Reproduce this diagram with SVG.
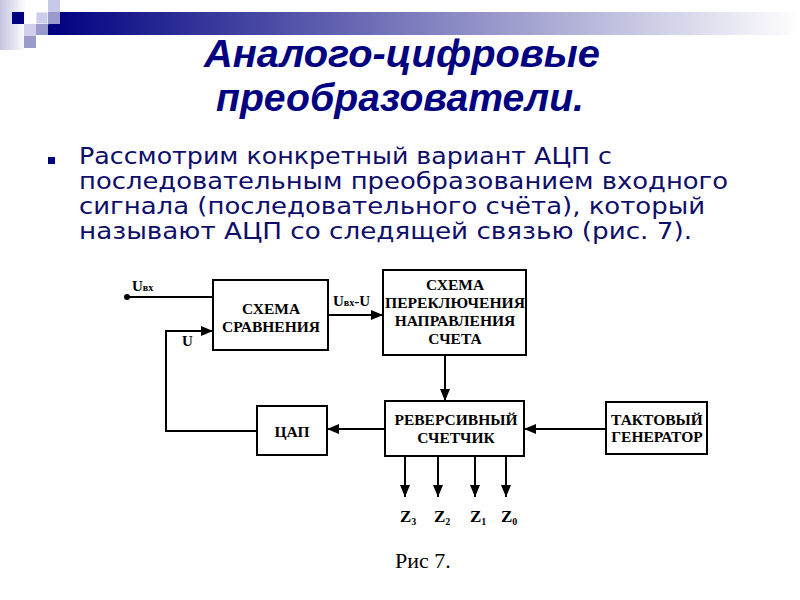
<svg xmlns="http://www.w3.org/2000/svg" width="800" height="600" viewBox="0 0 800 600">
<defs>
<linearGradient id="bar" x1="0" y1="0" x2="1" y2="0">
<stop offset="0" stop-color="#000080"/>
<stop offset="1" stop-color="#ffffff"/>
</linearGradient>
<linearGradient id="strip" x1="0" y1="0" x2="1" y2="0">
<stop offset="0" stop-color="#c4c4e2"/>
<stop offset="1" stop-color="#ffffff"/>
</linearGradient>
<marker id="ah" viewBox="0 0 12 10" refX="12" refY="5" markerWidth="12" markerHeight="10" markerUnits="userSpaceOnUse" orient="auto">
<path d="M0,0 L12,5 L0,10 z" fill="#000"/>
</marker>
<style>
.box{fill:#fff;stroke:#000;stroke-width:2}
.ln{fill:none;stroke:#000;stroke-width:2}
.arr{fill:none;stroke:#000;stroke-width:2;marker-end:url(#ah)}
.bt{font-family:"Liberation Serif","Times New Roman",serif;font-weight:bold;font-size:15.5px;fill:#000;text-anchor:middle}
.lb{font-family:"Liberation Serif","Times New Roman",serif;font-weight:bold;font-size:15px;fill:#000}
.z{font-family:"Liberation Serif","Times New Roman",serif;font-weight:bold;font-size:17px;fill:#000}
.title{font-family:"Liberation Sans",Arial,sans-serif;font-weight:bold;font-style:italic;font-size:38px;fill:#000080;text-anchor:middle}
.body{font-family:"DejaVu Sans",Verdana,sans-serif;font-size:23px;fill:#0e0e6a}
</style>
</defs>
<g id="header">
<rect x="0" y="0" width="26" height="50" fill="url(#strip)"/>
<rect x="48" y="12" width="752" height="23" fill="url(#bar)"/>
<rect x="48" y="0" width="12" height="12" fill="#c8c8e8"/>
<rect x="12" y="12" width="12" height="12" fill="#000080"/>
<rect x="36" y="12" width="12" height="12" fill="#ccccec" stroke="#ffffff" stroke-width="1"/>
<rect x="48" y="12" width="12" height="12" fill="#9a9acc"/>
<rect x="24" y="24" width="12" height="12" fill="#d0d0ec"/>
<rect x="36" y="24" width="12" height="11" fill="#9a9acc"/>
<rect x="24" y="36" width="12" height="12" fill="#9a9acc"/>
</g>
<g id="title">
<text class="title" x="402" y="67" textLength="396" lengthAdjust="spacingAndGlyphs">Аналого-цифровые</text>
<text class="title" x="400" y="111" textLength="368" lengthAdjust="spacingAndGlyphs">преобразователи.</text>
</g>
<g id="body">
<rect x="48" y="157" width="7" height="7" fill="#000080"/>
<text class="body" x="79" y="164" textLength="533" lengthAdjust="spacingAndGlyphs">Рассмотрим конкретный вариант АЦП с</text>
<text class="body" x="79" y="189" textLength="649" lengthAdjust="spacingAndGlyphs">последовательным преобразованием входного</text>
<text class="body" x="79" y="213.5" textLength="626" lengthAdjust="spacingAndGlyphs">сигнала (последовательного счёта), который</text>
<text class="body" x="79" y="238.5" textLength="613" lengthAdjust="spacingAndGlyphs">называют АЦП со следящей связью (рис. 7).</text>
</g>
<g id="connectors">
<circle cx="127" cy="297" r="3" fill="#000"/>
<path class="ln" d="M127,297 H213"/>
<path class="arr" d="M257,431 H166 V331 H213"/>
<path class="arr" d="M328,315 H383"/>
<path class="arr" d="M445,355 V401"/>
<path class="arr" d="M385,429 H327"/>
<path class="arr" d="M606,429 H524"/>
<path class="arr" d="M405,456 V497"/>
<path class="arr" d="M438,456 V497"/>
<path class="arr" d="M475,456 V497"/>
<path class="arr" d="M506,456 V497"/>
</g>
<g id="labels">
<text class="lb" x="132" y="291" font-size="16">U<tspan font-size="10">вх</tspan></text>
<text class="lb" x="182" y="346" font-size="16">U</text>
<text class="lb" x="333" y="306">U<tspan font-size="10">вх</tspan>-U</text>
<text class="z" x="400" y="522">Z<tspan font-size="10" dy="3">3</tspan></text>
<text class="z" x="434" y="522">Z<tspan font-size="10" dy="3">2</tspan></text>
<text class="z" x="470" y="522">Z<tspan font-size="10" dy="3">1</tspan></text>
<text class="z" x="501" y="522">Z<tspan font-size="10" dy="3">0</tspan></text>
</g>
<g id="compare">
<rect class="box" x="213" y="280" width="115" height="70"/>
<text class="bt" x="271" y="314">СХЕМА</text>
<text class="bt" x="271" y="332">СРАВНЕНИЯ</text>
</g>
<g id="switch">
<rect class="box" x="383" y="270" width="143" height="85"/>
<text class="bt" x="455" y="290">СХЕМА</text>
<text class="bt" x="455" y="308" textLength="140" lengthAdjust="spacingAndGlyphs">ПЕРЕКЛЮЧЕНИЯ</text>
<text class="bt" x="455" y="326">НАПРАВЛЕНИЯ</text>
<text class="bt" x="455" y="344">СЧЕТА</text>
</g>
<g id="counter">
<rect class="box" x="385" y="401" width="139" height="55"/>
<text class="bt" x="456" y="425">РЕВЕРСИВНЫЙ</text>
<text class="bt" x="456" y="443">СЧЕТЧИК</text>
</g>
<g id="dac">
<rect class="box" x="257" y="406" width="70" height="49"/>
<text class="bt" x="292" y="437">ЦАП</text>
</g>
<g id="generator">
<rect class="box" x="606" y="402" width="101" height="52"/>
<text class="bt" x="657" y="425">ТАКТОВЫЙ</text>
<text class="bt" x="657" y="442">ГЕНЕРАТОР</text>
</g>
<text x="395" y="568" font-family="Liberation Serif,'Times New Roman',serif" font-size="22" fill="#000">Рис 7.</text>
</svg>
